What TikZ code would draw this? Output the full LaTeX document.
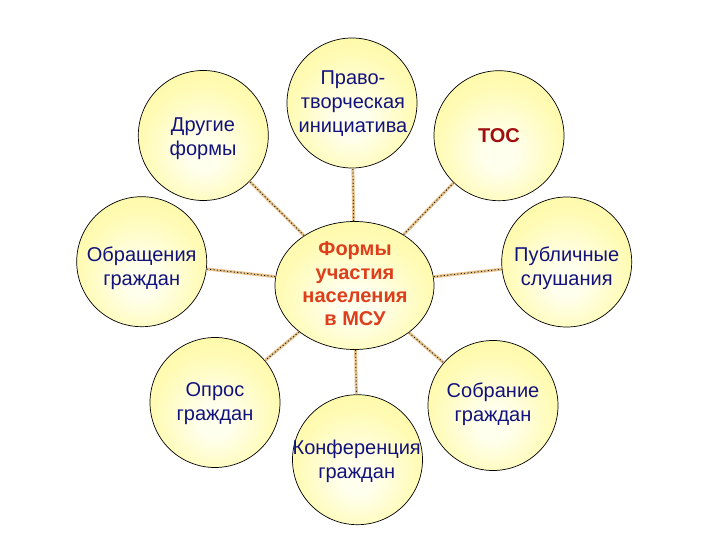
\documentclass[tikz,border=0pt]{standalone}
\usepackage{fontspec}
\setmainfont{Liberation Sans}
\usetikzlibrary{shapes.geometric}
\definecolor{navytext}{RGB}{18,18,125}
\definecolor{redtext}{RGB}{222,62,28}
\definecolor{darkred}{RGB}{160,15,15}
\definecolor{ropetan}{RGB}{232,196,140}
\definecolor{ballcore}{RGB}{255,255,238}
\definecolor{balledge}{RGB}{252,245,145}
\definecolor{ballmid}{RGB}{255,251,180}
\pgfdeclareradialshading{ballshade}{\pgfpoint{0bp}{-8bp}}{color(0bp)=(ballcore); color(6bp)=(ballcore); color(24bp)=(ballmid); color(45bp)=(balledge); color(60bp)=(balledge)}
\tikzset{
  ball/.style={circle, draw=black, line width=0.7pt, shading=ballshade, minimum size=130pt, inner sep=0pt},
  hub/.style={ellipse, draw=black, line width=0.7pt, shading=ballshade, minimum width=159pt, minimum height=128pt, inner sep=0pt},
  lbl/.style={align=center, text=navytext, font=\fontsize{20}{24}\selectfont, inner sep=0pt},
  conn/.style={draw=ropetan, line width=3pt, postaction={draw=black!85, line width=0.9pt, dash pattern=on 1.2pt off 2.2pt}}
}
\begin{document}
\begin{tikzpicture}[x=1pt,y=-1pt]
\useasboundingbox[fill=white] (0,0) rectangle (720,540);
% circles
\node[hub]  (C)   at (354.5,285.5) {};
\node[ball] (P)   at (352,103) {};
\node[ball] (T)   at (499,135.7) {};
\node[ball] (D)   at (203.3,135.5) {};
\node[ball] (O)   at (141.7,261.7) {};
\node[ball] (Pub) at (566.7,262) {};
\node[ball] (Op)  at (215,402.5) {};
\node[ball] (S)   at (493,405.5) {};
\node[ball] (K)   at (357.5,459.7) {};
% connectors
\draw[conn] (C) -- (P);
\draw[conn] (C) -- (T);
\draw[conn] (C) -- (D);
\draw[conn] (C) -- (O);
\draw[conn] (C) -- (Pub);
\draw[conn] (C) -- (Op);
\draw[conn] (C) -- (S);
\draw[conn] (C) -- (K);
% texts
\node[lbl, text=redtext, font=\bfseries\fontsize{20}{23.3}\selectfont] (tC) at (355,284) {Формы\\участия\\населения\\в МСУ};
\node[lbl] (tP) at (353,104) {Право-\\творческая\\инициатива};
\node[lbl, text=darkred, font=\bfseries\fontsize{20}{24}\selectfont] (tT) at (499,136) {ТОС};
\node[lbl] (tD) at (203,138.5) {Другие\\формы};
\node[lbl] (tO) at (141.7,268.5) {Обращения\\граждан};
\node[lbl] (tPub) at (566.7,268.5) {Публичные\\слушания};
\node[lbl] (tOp) at (215,404) {Опрос\\граждан};
\node[lbl] (tS) at (493,404.5) {Собрание\\граждан};
\node[lbl] (tK) at (356.7,461) {Конференция\\граждан};
\end{tikzpicture}
\end{document}
